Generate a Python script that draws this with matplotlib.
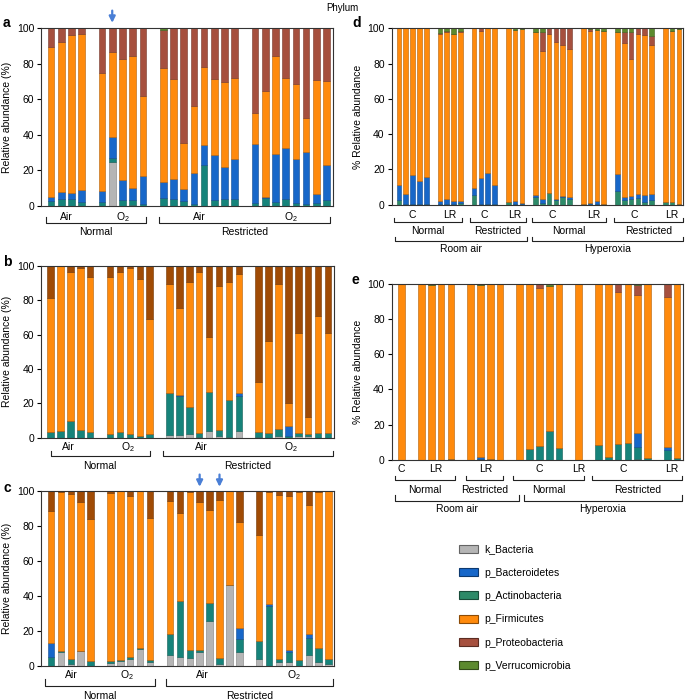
import numpy as np
import matplotlib
matplotlib.use('Agg')
import matplotlib.pyplot as plt
from matplotlib.patches import Patch
from matplotlib.colors import to_rgb
import matplotlib.transforms as mtransforms

plt.rcParams['font.family'] = ['Liberation Sans', 'DejaVu Sans']
plt.rcParams['mathtext.default'] = 'regular'

#################### DATA ##############################

phyla = ['k_Bacteria', 'p_Bacteroidetes', 'p_Actinobacteria',
         'p_Firmicutes', 'p_Proteobacteria', 'p_Verrucomicrobia']

# panel a
a_pos = [0, 1, 2, 3, 5, 6, 7, 8, 9, 11, 12, 13, 14, 15, 16, 17, 18, 20, 21, 22, 23, 24, 25, 26, 27]
a_bact = [0, 0, 0, 0, 0, 24.6, 0, 0.3, 0, 0, 0, 0, 0, 0, 0, 0, 0, 0, 0, 0, 0, 0, 0, 0, 0]
a_actino = [2.6, 3.7, 4.1, 2.4, 2.4, 2.4, 3.2, 3.1, 1.3, 4.5, 3.7, 2.8, 1.0, 23.0, 3.4, 3.7, 3.7,
            1.9, 4.5, 2.3, 3.7, 1.9, 1.0, 1.9, 3.4]
a_bacteroid = [2.7, 4.0, 3.2, 6.6, 6.2, 11.8, 11.4, 6.6, 15.7, 9.2, 11.7, 6.6, 17.4, 11.3, 25.3, 18.3, 22.6,
               33.1, 0.8, 26.7, 29.1, 24.7, 29.6, 4.9, 19.9]
a_firm = [84.4, 84.3, 88.9, 87.6, 66.1, 47.7, 68.1, 74.6, 45.0, 63.8, 55.9, 25.9, 37.9, 44.1, 42.6, 48.0, 45.5,
          17.5, 59.4, 55.4, 39.0, 41.9, 18.9, 64.2, 46.9]
a_proteo = [10.3, 8.0, 3.8, 3.4, 25.3, 13.5, 17.3, 15.4, 38.0, 21.5, 28.7, 64.7, 43.7, 21.6, 28.7, 30.0, 28.2,
            47.5, 35.3, 15.6, 28.2, 31.5, 50.5, 29.0, 29.8]
a_verruco = [0, 0, 0, 0, 0, 0, 0, 0, 0, 1.0, 0, 0, 0, 0, 0, 0, 0, 0, 0, 0, 0, 0, 0, 0, 0]

# panel b
b_pos = [0, 1, 2, 3, 4, 6, 7, 8, 9, 10, 12, 13, 14, 15, 16, 17, 18, 19, 21, 22, 23, 24, 25, 26, 27, 28]
b_bact = [0, 0, 0, 0, 0, 0, 0, 0, 0, 0, 1.4, 1.5, 2.2, 0.5, 3.8, 1.0, 0.5, 3.5,
          0.5, 0, 1.0, 0, 1.0, 1.0, 0, 0]
b_actino = [3.3, 3.7, 9.6, 4.5, 3.1, 2.0, 3.0, 2.0, 1.0, 2.0, 24.8, 22.8, 15.8, 2.0, 23.0, 3.5, 21.5, 20.8,
            2.8, 2.9, 4.2, 1.0, 1.5, 1.0, 2.9, 2.5]
b_bacteroid = [0, 0, 0, 0, 0, 0, 0, 0, 0, 0, 0, 0.7, 0, 0, 0, 0, 0, 1.7,
               0, 0, 0, 5.8, 0, 0, 0, 0]
b_firm = [77.9, 96.3, 86.7, 94.1, 90.3, 91.4, 93.3, 97.0, 91.2, 67.0, 63.3, 50.7, 72.5, 93.8, 31.6, 84.0, 68.9,
          69.1, 28.9, 53.4, 84.3, 13.2, 58.7, 10.2, 68.0, 58.7]
b_proteo = [18.8, 0, 3.7, 1.4, 6.6, 6.6, 3.7, 1.0, 7.8, 31.0, 10.5, 24.3, 9.5, 3.7, 41.6, 11.5, 9.1, 4.9,
            67.8, 43.7, 10.5, 80.0, 38.8, 87.8, 29.1, 38.8]
b_verruco = [0] * 26

# panel c
c_pos = b_pos
c_bact = [0, 7.6, 1.1, 8.6, 0, 1.5, 2.9, 3.8, 9.5, 2.3, 6.1, 5.2, 4.2, 8.0, 25.4, 1.1, 46.0, 8.0,
          3.6, 0, 2.3, 2.3, 0, 5.9, 2.1, 1.1]
c_actino = [5.2, 0.8, 2.5, 0, 2.9, 1.2, 0.5, 1.0, 0.6, 0.9, 11.8, 31.8, 4.8, 1.0, 10.7, 3.3, 0, 7.3,
            10.5, 34.4, 1.5, 5.3, 3.2, 9.7, 8.2, 2.7]
c_bacteroid = [7.6, 0, 0, 0, 0, 0, 0, 0, 0, 0, 0, 0, 0, 0, 0, 0, 0, 6.5,
               0, 0.9, 0, 1.4, 0, 2.5, 0, 0]
c_firm = [75.9, 91.1, 94.7, 85.3, 80.9, 96.0, 96.6, 92.3, 89.9, 81.5, 76.4, 50.2, 90.6, 84.9, 53.0, 90.4, 54.0,
          60.6, 60.7, 64.3, 93.9, 88.1, 96.4, 73.9, 89.3, 96.2]
c_proteo = [11.3, 0.5, 1.7, 6.1, 16.2, 1.3, 0, 2.9, 0, 15.3, 5.7, 12.8, 0.4, 6.1, 10.9, 5.2, 0, 17.6,
            25.2, 0.4, 2.3, 2.9, 0.4, 8.0, 0.4, 0]
c_verruco = [0] * 26

# panel d
d_pos = [0, 1, 2, 3, 4, 6, 7, 8, 9, 11, 12, 13, 14, 16, 17, 18, 20, 21, 22, 23, 24, 25,
         27, 28, 29, 30, 32, 33, 34, 35, 36, 37, 39, 40, 41]
d_bact = [0] * 35
d_actino = [2.6, 0.4, 0.3, 0.3, 0.3, 0.3, 0.3, 0.3, 0.8, 5.5, 0.3, 0.3, 0.3, 1.7, 0.3, 0.3,
            4.5, 0.8, 6.4, 2.6, 4.5, 3.2, 0.2, 0.3, 0.3, 0.2, 8.0, 2.6, 3.2, 3.6, 1.3, 2.6, 1.3, 1.5, 0.6]
d_bacteroid = [8.6, 5.5, 16.5, 13.1, 15.6, 1.7, 2.9, 1.7, 1.2, 3.8, 14.6, 17.5, 10.9, 0, 1.8, 0.5,
               0.8, 2.4, 0.4, 0.6, 0.6, 1.0, 0.3, 0.8, 1.7, 0.3, 9.4, 1.9, 1.7, 2.3, 4.2, 3.4, 0, 0, 0]
d_firm = [88.8, 94.1, 83.2, 86.6, 84.1, 94.6, 94.8, 94.6, 96.0, 90.7, 83.8, 82.2, 88.8, 98.3, 96.9, 98.7,
          92.7, 83.9, 89.8, 89.2, 85.4, 83.9, 99.5, 97.6, 97.2, 98.2, 80.6, 87.4, 77.5, 90.7, 90.7, 84.5,
          98.7, 97.2, 98.9]
d_proteo = [0, 0, 0, 0, 0, 0.6, 0.3, 0.3, 0.5, 0, 1.3, 0, 0, 0, 0, 0,
            0, 11.0, 3.4, 7.6, 9.5, 11.9, 0, 0.7, 0, 0, 0, 6.2, 15.6, 3.4, 3.8, 5.3, 0, 0, 0]
d_verruco = [0, 0, 0, 0, 0, 2.8, 1.7, 3.1, 1.5, 0, 0, 0, 0, 0, 1.0, 0.5,
             2.0, 1.9, 0, 0, 0, 0, 0, 0.6, 0.8, 1.3, 2.0, 1.9, 2.0, 0, 0, 4.2, 0, 1.3, 0.5]

# panel e
e_pos = [0, 2, 3, 4, 5, 7, 8, 9, 10, 12, 13, 14, 15, 16, 18, 20, 21, 22, 23, 24, 25, 27, 28]
e_bact = [0, 0, 0, 0, 0, 0, 0, 0, 0, 0, 0, 0, 0, 0, 0, 0, 0, 0, 0, 0.6, 0, 0, 0]
e_actino = [0, 0, 0, 0, 0.5, 0, 0.8, 0.4, 0, 0, 6.0, 8.1, 16.3, 6.6, 0, 8.5, 1.7, 9.1, 9.5, 6.6, 1.3, 5.7, 1.0]
e_bacteroid = [0, 0, 0, 0, 0, 0, 1.1, 0, 0, 0, 0, 0, 0, 0, 0, 0, 0, 0, 0, 7.9, 0, 1.5, 0.3]
e_firm = [100, 99.6, 99.4, 100, 99.5, 100, 97.3, 99.6, 100, 100, 94.0, 89.6, 82.6, 93.0, 100, 91.5, 98.3,
          86.2, 90.5, 78.5, 98.7, 85.4, 98.7]
e_proteo = [0, 0.4, 0, 0, 0, 0, 0, 0, 0, 0, 0, 2.3, 0, 0.4, 0, 0, 0, 4.7, 0, 5.6, 0, 7.4, 0]
e_verruco = [0, 0, 0.6, 0, 0, 0, 0.8, 0, 0, 0, 0, 0, 1.1, 0, 0, 0, 0, 0, 0, 0.8, 0, 0, 0]

#################### COLOURS ##############################

GREY = '#b5b5b5'
BLUE = '#1767c9'
TEAL = '#16837a'
TEAL_D = '#2d8a68'
ORANGE = '#ff8a0c'
PROTEO_RED = '#a6503e'
PROTEO_BROWN = '#a04b05'
GREEN = '#5c8a2e'
ARROW = '#4a7fd6'


def darker(c, f=0.7):
    r, g, b = to_rgb(c)
    return (r * f, g * f, b * f)


def stack(ax, pos, layers, colors, width):
    bottom = np.zeros(len(pos))
    for vals, col in zip(layers, colors):
        vals = np.array(vals, dtype=float)
        ax.bar(pos, vals, width=width, bottom=bottom, color=col,
               edgecolor=darker(col), linewidth=0.4)
        bottom += vals


def style(ax, xlim, ylabel):
    ax.set_xlim(*xlim)
    ax.set_ylim(0, 100)
    ax.set_yticks(np.arange(0, 101, 20))
    ax.set_xticks([])
    ax.tick_params(axis='y', direction='out', length=3, width=0.8, labelsize=7.5, pad=2)
    for s in ax.spines.values():
        s.set_linewidth(0.8)
        s.set_color('#333333')
    ax.set_ylabel(ylabel, fontsize=7.5)
    ax.yaxis.set_label_coords(-0.1, 0.5)


def bracket(ax, x0, x1, y, h, label, ly):
    tr = mtransforms.blended_transform_factory(ax.transData, ax.transAxes)
    ax.plot([x0, x0, x1, x1], [y + h, y, y, y + h], transform=tr, clip_on=False,
            color='#222222', lw=0.8)
    ax.text((x0 + x1) / 2, ly, label, transform=tr, ha='center', va='center', fontsize=7.5)


def sub(ax, x, y, label):
    tr = mtransforms.blended_transform_factory(ax.transData, ax.transAxes)
    ax.text(x, y, label, transform=tr, ha='center', va='center', fontsize=7.5)


def arrow(ax, x, y0, y1):
    ax.annotate('', xy=(x, y1), xytext=(x, y0), xycoords='data',
                arrowprops=dict(arrowstyle='-|>', color=ARROW, lw=1.6, mutation_scale=9),
                annotation_clip=False)


#################### PLOT ##############################

fig = plt.figure(figsize=(6.85, 7.0), dpi=100)

ax_a = fig.add_axes([0.0599, 0.7057, 0.4263, 0.2539])
ax_b = fig.add_axes([0.0599, 0.375, 0.4277, 0.245])
ax_c = fig.add_axes([0.0599, 0.049, 0.4277, 0.2496])
ax_d = fig.add_axes([0.5718, 0.7076, 0.4252, 0.252])
ax_e = fig.add_axes([0.5718, 0.3429, 0.4252, 0.2519])

stack(ax_a, a_pos, [a_bact, a_actino, a_bacteroid, a_firm, a_proteo, a_verruco],
      [GREY, TEAL, BLUE, ORANGE, PROTEO_RED, GREEN], 0.65)
stack(ax_b, b_pos, [b_bact, b_actino, b_bacteroid, b_firm, b_proteo, b_verruco],
      [GREY, TEAL, BLUE, ORANGE, PROTEO_BROWN, GREEN], 0.65)
stack(ax_c, c_pos, [c_bact, c_actino, c_bacteroid, c_firm, c_proteo, c_verruco],
      [GREY, TEAL, BLUE, ORANGE, PROTEO_BROWN, GREEN], 0.65)
stack(ax_d, d_pos, [d_bact, d_actino, d_bacteroid, d_firm, d_proteo, d_verruco],
      [GREY, TEAL_D, BLUE, ORANGE, PROTEO_RED, GREEN], 0.68)
stack(ax_e, e_pos, [e_bact, e_actino, e_bacteroid, e_firm, e_proteo, e_verruco],
      [GREY, TEAL, BLUE, ORANGE, PROTEO_RED, GREEN], 0.68)

style(ax_a, (-0.98, 27.65), 'Relative abundance (%)')
style(ax_b, (-0.96, 28.6), 'Relative abundance (%)')
style(ax_c, (-1.0, 28.55), 'Relative abundance (%)')
style(ax_d, (-1.07, 41.6), '% Relative abundance')
style(ax_e, (-1.02, 28.6), '% Relative abundance')

# group labels a
sub(ax_a, 1.5, -0.06, 'Air')
sub(ax_a, 7, -0.06, 'O$_2$')
sub(ax_a, 14.5, -0.06, 'Air')
sub(ax_a, 23.5, -0.06, 'O$_2$')
bracket(ax_a, -0.5, 9.3, -0.098, 0.035, 'Normal', -0.146)
bracket(ax_a, 10.6, 27.35, -0.098, 0.035, 'Restricted', -0.146)

# group labels b
sub(ax_b, 1.8, -0.057, 'Air')
sub(ax_b, 7.8, -0.057, 'O$_2$')
sub(ax_b, 15.2, -0.057, 'Air')
sub(ax_b, 24.3, -0.057, 'O$_2$')
bracket(ax_b, 0.0, 10.0, -0.108, 0.032, 'Normal', -0.166)
bracket(ax_b, 11.35, 28.5, -0.108, 0.032, 'Restricted', -0.166)

# group labels c
sub(ax_c, 2.1, -0.053, 'Air')
sub(ax_c, 7.7, -0.053, 'O$_2$')
sub(ax_c, 15.3, -0.053, 'Air')
sub(ax_c, 24.5, -0.053, 'O$_2$')
bracket(ax_c, -0.6, 10.5, -0.114, 0.036, 'Normal', -0.173)
bracket(ax_c, 11.6, 28.45, -0.114, 0.036, 'Restricted', -0.173)

# group labels d
for x, t in [(2, 'C'), (7.5, 'LR'), (12.5, 'C'), (17, 'LR'),
             (22.5, 'C'), (28.5, 'LR'), (34.5, 'C'), (40, 'LR')]:
    sub(ax_d, x, -0.058, t)
bracket(ax_d, -0.8, 9.3, -0.096, 0.018, 'Normal', -0.149)
bracket(ax_d, 10.4, 18.55, -0.096, 0.018, 'Restricted', -0.149)
bracket(ax_d, 19.5, 30.4, -0.096, 0.018, 'Normal', -0.149)
bracket(ax_d, 31.5, 41.6, -0.096, 0.018, 'Restricted', -0.149)
bracket(ax_d, -0.6, 18.7, -0.204, 0.019, 'Room air', -0.251)
bracket(ax_d, 19.5, 41.6, -0.204, 0.019, 'Hyperoxia', -0.251)

# group labels e
for x, t in [(0, 'C'), (3.5, 'LR'), (8.5, 'LR'), (14, 'C'), (18, 'LR'), (22.5, 'C'), (27.5, 'LR')]:
    sub(ax_e, x, -0.053, t)
bracket(ax_e, -0.68, 5.4, -0.113, 0.022, 'Normal', -0.17)
bracket(ax_e, 6.5, 10.3, -0.113, 0.022, 'Restricted', -0.17)
bracket(ax_e, 11.35, 18.5, -0.113, 0.022, 'Normal', -0.17)
bracket(ax_e, 19.4, 28.5, -0.113, 0.022, 'Restricted', -0.17)
bracket(ax_e, -0.68, 11.9, -0.231, 0.031, 'Room air', -0.278)
bracket(ax_e, 12.4, 28.5, -0.231, 0.031, 'Hyperoxia', -0.278)

# arrows
arrow(ax_a, 6, 111.5, 101.5)
arrow(ax_c, 15, 111, 100.8)
arrow(ax_c, 17, 111, 100.8)

# panel letters
for x, y, t in [(3, 23, 'a'), (3, 262, 'b'), (3, 488, 'c'), (352, 23, 'd'), (352, 280, 'e')]:
    fig.text(x / 685, 1 - y / 700, t, fontsize=10, fontweight='bold', ha='left', va='center')

fig.text(0.5, 1 - 8 / 700, 'Phylum', fontsize=7, ha='center', va='center')

# legend
leg_cols = [GREY, BLUE, TEAL_D, ORANGE, PROTEO_RED, GREEN]
handles = [Patch(facecolor=c, edgecolor=darker(c, 0.55), linewidth=0.8) for c in leg_cols]
fig.legend(handles, phyla, loc='upper left', bbox_to_anchor=(0.657, 0.236), frameon=False,
           fontsize=7.5, handlelength=1.75, handleheight=0.8, labelspacing=1.28, handletextpad=0.65)

plt.savefig('out.png', dpi=100)
